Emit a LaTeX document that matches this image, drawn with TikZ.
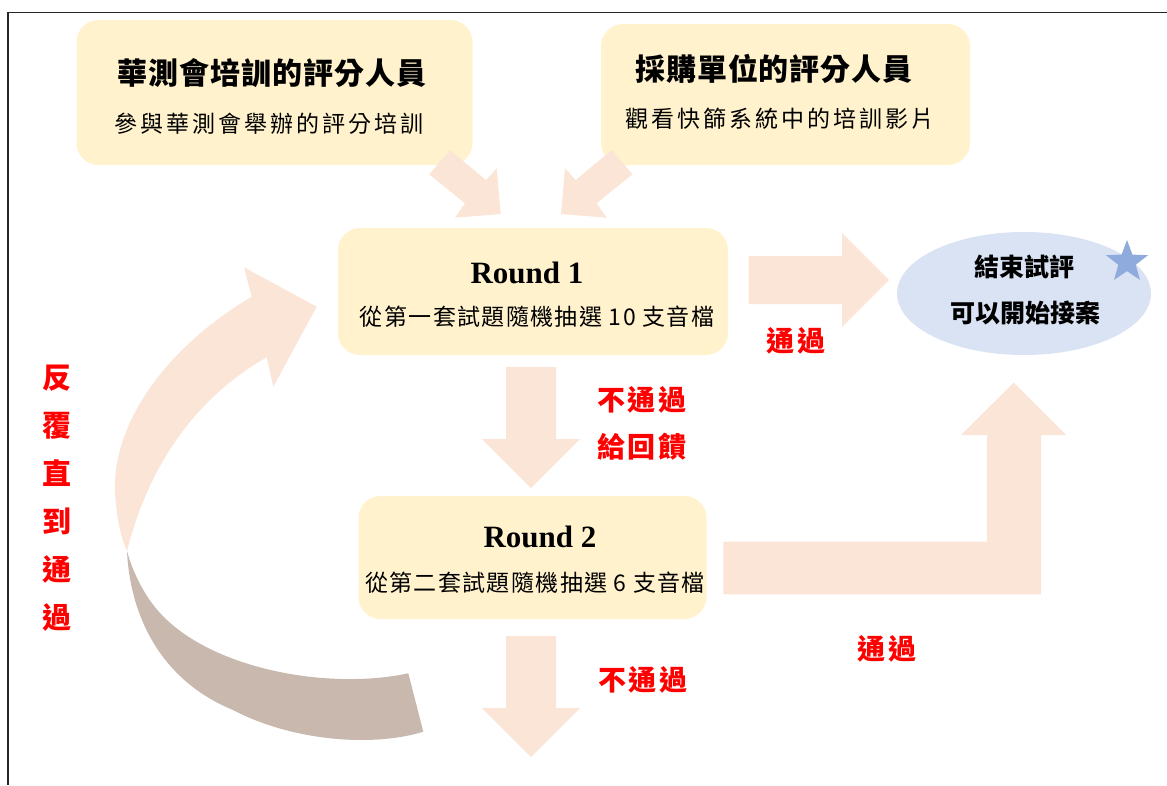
\documentclass[tikz,border=0pt]{standalone}
\usepackage{fontspec}
\setmainfont{Noto Sans CJK TC}
\newfontfamily\roundfont{Liberation Serif}
\newfontfamily\titlecjk{Noto Sans CJK TC}[LetterSpace=3]
\newfontfamily\widecjk{Noto Sans CJK TC}[LetterSpace=13]
\newfontfamily\roundcjk{Noto Sans CJK TC}[LetterSpace=6]
\newfontfamily\redcjk{Noto Sans CJK TC}[LetterSpace=10]
\usetikzlibrary{shapes.geometric}

\definecolor{boxfill}{HTML}{FFF2CC}
\definecolor{arrowfill}{HTML}{FBE5D6}
\definecolor{loopdark}{HTML}{C9B8AD}
\definecolor{endfill}{HTML}{DAE3F3}
\definecolor{starfill}{HTML}{8FAADC}

\tikzset{
    roundbox/.style={fill=boxfill, rounded corners=22pt, inner sep=0pt},
    blockarrow/.style={fill=arrowfill},
    titlelabel/.style={font=\titlecjk\fontsize{30}{30}\selectfont\bfseries, inner sep=0pt},
    sublabel/.style={font=\widecjk\fontsize{23}{23}\selectfont, inner sep=0pt},
    drawlabel/.style={font=\roundcjk\fontsize{23}{23}\selectfont, inner sep=0pt},
    roundlabel/.style={font=\roundfont\fontsize{31}{31}\selectfont\bfseries, inner sep=0pt},
    endlabel/.style={font=\fontsize{25}{25}\selectfont\bfseries, inner sep=0pt},
    redlabel/.style={text=red, font=\redcjk\fontsize{28}{28}\selectfont\bfseries, inner sep=0pt}
}

\begin{document}
\begin{tikzpicture}[x=1pt, y=-1pt]
            \useasboundingbox ( 0, 0 ) rectangle ( 1167, 785 );

            % рамка
            \draw [line width=1.6pt, black!85] ( 7.7, 785 ) -- ( 7.7, 12.3 ) -- ( 1167, 12.3 );

            % круговая стрелка
            \fill [arrowfill] ( 251.7, 296.7 ) -- ( 244, 267.3 ) -- ( 316.7, 306.7 ) -- ( 273.3, 386.7 ) -- ( 266.7, 357.3 )
                .. controls ( 200, 395 ) and ( 150, 460 ) .. ( 127, 551 )
                .. controls ( 121, 538 ) and ( 117, 520 ) .. ( 115, 493 )
                .. controls ( 112, 420 ) and ( 170, 345 ) .. ( 251.7, 296.7 ) -- cycle;
            \fill [loopdark] ( 127, 551 ) .. controls ( 130, 615 ) and ( 160, 680 ) .. ( 233, 710 )
                .. controls ( 290, 740 ) and ( 370, 748 ) .. ( 423.3, 731.7 ) -- ( 408.3, 673.3 )
                .. controls ( 330, 690 ) and ( 220, 670 ) .. ( 167, 620 )
                .. controls ( 145, 600 ) and ( 132, 570 ) .. ( 127, 551 ) -- cycle;

            % блоки
            \node [roundbox, minimum width=396pt, minimum height=145pt] (trainbox) at ( 274.5, 92.5 ) {};
            \node [roundbox, minimum width=369pt, minimum height=141pt] (buyerbox) at ( 785.5, 94.5 ) {};
            \node [roundbox, minimum width=390pt, minimum height=127pt] (roundone) at ( 533, 291.5 ) {};
            \node [roundbox, minimum width=348pt, minimum height=123pt] (roundtwo) at ( 532.5, 557.5 ) {};
            \node [ellipse, fill=endfill, minimum width=254pt, minimum height=123pt, inner sep=0pt] (finish) at ( 1024, 293.5 ) {};
            \node [star, star points=5, star point ratio=2.4, fill=starfill, minimum size=44pt, inner sep=0pt] (mark) at ( 1127, 262 ) {};

            % стрелки
            \fill [blockarrow] ( 450, 150 ) -- ( 486, 180 ) -- ( 496.7, 168.3 ) -- ( 500.7, 214 ) -- ( 455, 217.7 ) -- ( 465, 203.3 ) -- ( 429.3, 174.3 ) -- cycle;
            \fill [blockarrow] ( 611.7, 150 ) -- ( 575.7, 180 ) -- ( 565, 168.3 ) -- ( 561, 214 ) -- ( 606.7, 217.7 ) -- ( 596.7, 203.3 ) -- ( 632.4, 174.3 ) -- cycle;
            \fill [blockarrow] ( 748.5, 256 ) -- ( 842, 256 ) -- ( 842, 233 ) -- ( 889, 280 ) -- ( 842, 327 ) -- ( 842, 304 ) -- ( 748.5, 304 ) -- cycle;
            \fill [blockarrow] ( 506, 367 ) -- ( 556, 367 ) -- ( 556, 439 ) -- ( 580, 439 ) -- ( 531, 488 ) -- ( 482, 439 ) -- ( 506, 439 ) -- cycle;
            \fill [blockarrow] ( 506, 636 ) -- ( 556, 636 ) -- ( 556, 708 ) -- ( 580, 708 ) -- ( 531, 757 ) -- ( 482, 708 ) -- ( 506, 708 ) -- cycle;
            \fill [blockarrow] ( 723.4, 541.7 ) -- ( 987, 541.7 ) -- ( 987, 435 ) -- ( 961, 435 ) -- ( 1013.7, 382.7 ) -- ( 1066, 435 ) -- ( 1041, 435 ) -- ( 1041, 594.3 ) -- ( 723.4, 594.3 ) -- cycle;

            % тексты
            \node [titlelabel] (traintitle) at ( 272, 73 ) {華測會培訓的評分人員};
            \node [sublabel] (traintext) at ( 269, 123.5 ) {參與華測會舉辦的評分培訓};
            \node [titlelabel] (buyertitle) at ( 774, 68.5 ) {採購單位的評分人員};
            \node [sublabel] (buyertext) at ( 780, 118.5 ) {觀看快篩系統中的培訓影片};
            \node [roundlabel] (onetitle) at ( 527, 272.5 ) {Round 1};
            \node [drawlabel] (onetext) at ( 537, 317 ) {從第一套試題隨機抽選 10 支音檔};
            \node [roundlabel] (twotitle) at ( 540, 537 ) {Round 2};
            \node [drawlabel] (twotext) at ( 535, 583 ) {從第二套試題隨機抽選 6 支音檔};
            \node [endlabel] (finishtop) at ( 1024, 267 ) {結束試評};
            \node [endlabel] (finishbottom) at ( 1025, 313 ) {可以開始接案};

            % подписи
            \node [redlabel] (passone) at ( 796, 341 ) {通過};
            \node [redlabel] (failone) at ( 642, 400 ) {不通過};
            \node [redlabel] (feedback) at ( 642, 447 ) {給回饋};
            \node [redlabel] (passtwo) at ( 887, 649 ) {通過};
            \node [redlabel] (failtwo) at ( 643, 680 ) {不通過};
            \node [redlabel, align=center, font=\fontsize{29}{48}\selectfont\bfseries] (repeat) at ( 56.5, 498 ) {反\\覆\\直\\到\\通\\過};
        \end{tikzpicture}
\end{document}
